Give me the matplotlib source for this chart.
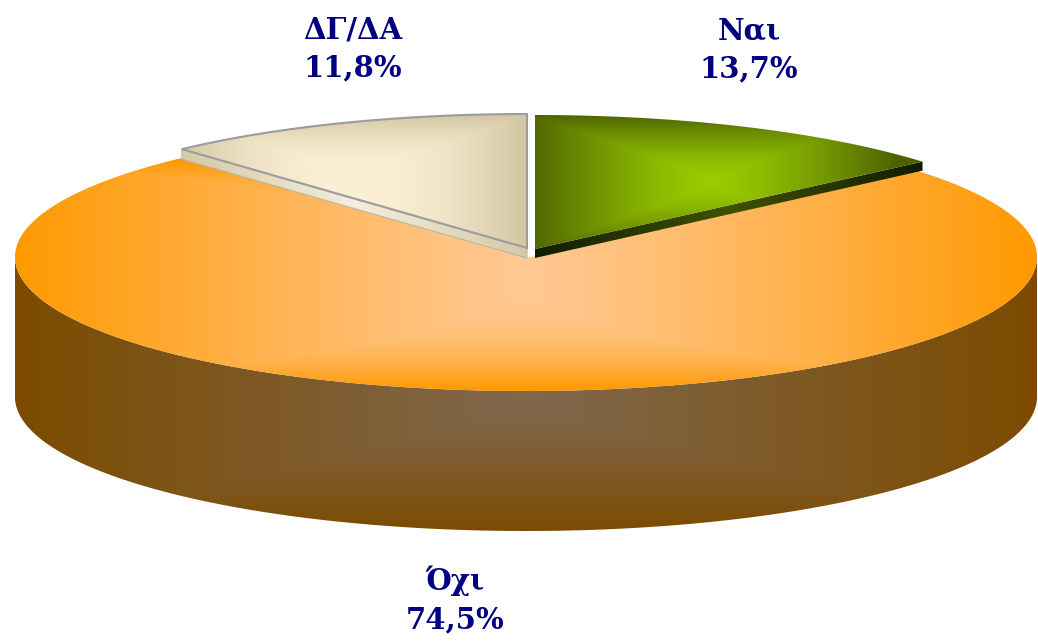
import numpy as np
import matplotlib
matplotlib.use("Agg")
import matplotlib.pyplot as plt
from matplotlib.patches import Polygon

labels = ["Ναι", "Όχι", "ΔΓ/ΔΑ"]
values = [13.7, 74.5, 11.8]

W, H = 1038, 643
A, B = 511, 134
DEPTH = 140


def arc(cx, cy, t0, t1, n=240):
    # angles in degrees, clockwise from 12 o'clock, squashed to an ellipse
    t = np.radians(np.linspace(t0, t1, n))
    return np.column_stack([cx + A * np.sin(t), cy - B * np.cos(t)])


def hexrgb(c):
    return np.array(matplotlib.colors.to_rgb(c))


def fill_gradient(ax, pts, edge, core, xc, xh, yc, yh, xp=1.0, yp=1.0, zorder=2):
    """Paint a rectangular path gradient, clipped to the polygon pts."""
    x0, y0 = pts.min(axis=0) - 2
    x1, y1 = pts.max(axis=0) + 2
    xx, yy = np.meshgrid(np.linspace(x0, x1, 400), np.linspace(y0, y1, 300))
    tx = (np.abs(xx - xc) / xh) ** xp
    ty = (np.abs(yy - yc) / yh) ** yp
    t = np.clip(np.maximum(tx, ty), 0, 1)[..., None]
    img = hexrgb(edge) * t + hexrgb(core) * (1 - t)
    im = ax.imshow(img, extent=[x0, x1, y1, y0], aspect="auto", zorder=zorder,
                   interpolation="bilinear")
    patch = Polygon(pts, closed=True, fc="none", ec="none", zorder=zorder)
    ax.add_patch(patch)
    im.set_clip_path(patch)


fig = plt.figure(figsize=(W / 100, H / 100), dpi=100)
ax = fig.add_axes([0, 0, 1, 1])

# slice angles come from the values: Nai starts at 12 o'clock, going clockwise
yes_end = values[0] * 3.6
no_end = yes_end + values[1] * 3.6

# big slice (Oxi): wall first, then the top
cx, cy = 526, 257
front = arc(cx, cy, 90, 270)
wall = np.vstack([front, front[::-1] + [0, DEPTH]])
fill_gradient(ax, wall, "#7c4b00", "#80684e", 526, 511, 395, 135, yp=1.3, zorder=1)
no_top = np.vstack([[[cx + 1, cy + 1]], arc(cx, cy, yes_end, no_end)])
fill_gradient(ax, no_top, "#ff9900", "#ffc993", 526, 511, 275, 115, xp=1.15, yp=2.6, zorder=2)

# pulled-out slice (Nai)
gx, gy = 535, 249
yes_arc = arc(gx, gy, 0, yes_end, 80)
side_pts = np.array([[gx, gy], yes_arc[-1], yes_arc[-1] + [0, 9], [gx, gy + 9]])
fill_gradient(ax, side_pts, "#121c00", "#3f5200", 728, 193, 207, 200, zorder=3)
yes_top = np.vstack([[[gx, gy]], yes_arc])
fill_gradient(ax, yes_top, "#4d6100", "#99cc00", 712, 185, 182, 68, xp=1.4, yp=1.6, zorder=4)

# pulled-out slice (DG/DA)
dx, dy = 527, 248
dk_arc = arc(dx, dy, no_end, 360, 80)
side_pts = np.array([[dx, dy], dk_arc[0], dk_arc[0] + [0, 10], [dx, dy + 10]])
fill_gradient(ax, side_pts, "#d5caa8", "#f4eedb", 355, 172, 203, 200, zorder=3)
ax.add_patch(Polygon(side_pts, closed=True, fc="none", ec="#b9b6a6", lw=0.8, zorder=3))
dk_top = np.vstack([[[dx, dy]], dk_arc])
fill_gradient(ax, dk_top, "#d3c6a3", "#fbefd5", 352, 172, 185, 70, xp=2.0, yp=2.4, zorder=4)
ax.add_patch(Polygon(dk_top, closed=True, fc="none", ec="#9b9ba0", lw=1.5, zorder=5))

# labels, comma as decimal mark
label_pos = [(749, 50), (455, 600), (353, 49)]
for name, val, (lx, ly) in zip(labels, values, label_pos):
    txt = f"{name}\n{val:.1f}%".replace(".", ",")
    ax.text(lx, ly, txt, ha="center", va="center", color="#000080", fontsize=21,
            fontweight="bold", family="DejaVu Serif", linespacing=1.42, zorder=6)

ax.set_xlim(0, W)
ax.set_ylim(H, 0)
ax.axis("off")
fig.savefig("out.png", dpi=100, facecolor="white")
